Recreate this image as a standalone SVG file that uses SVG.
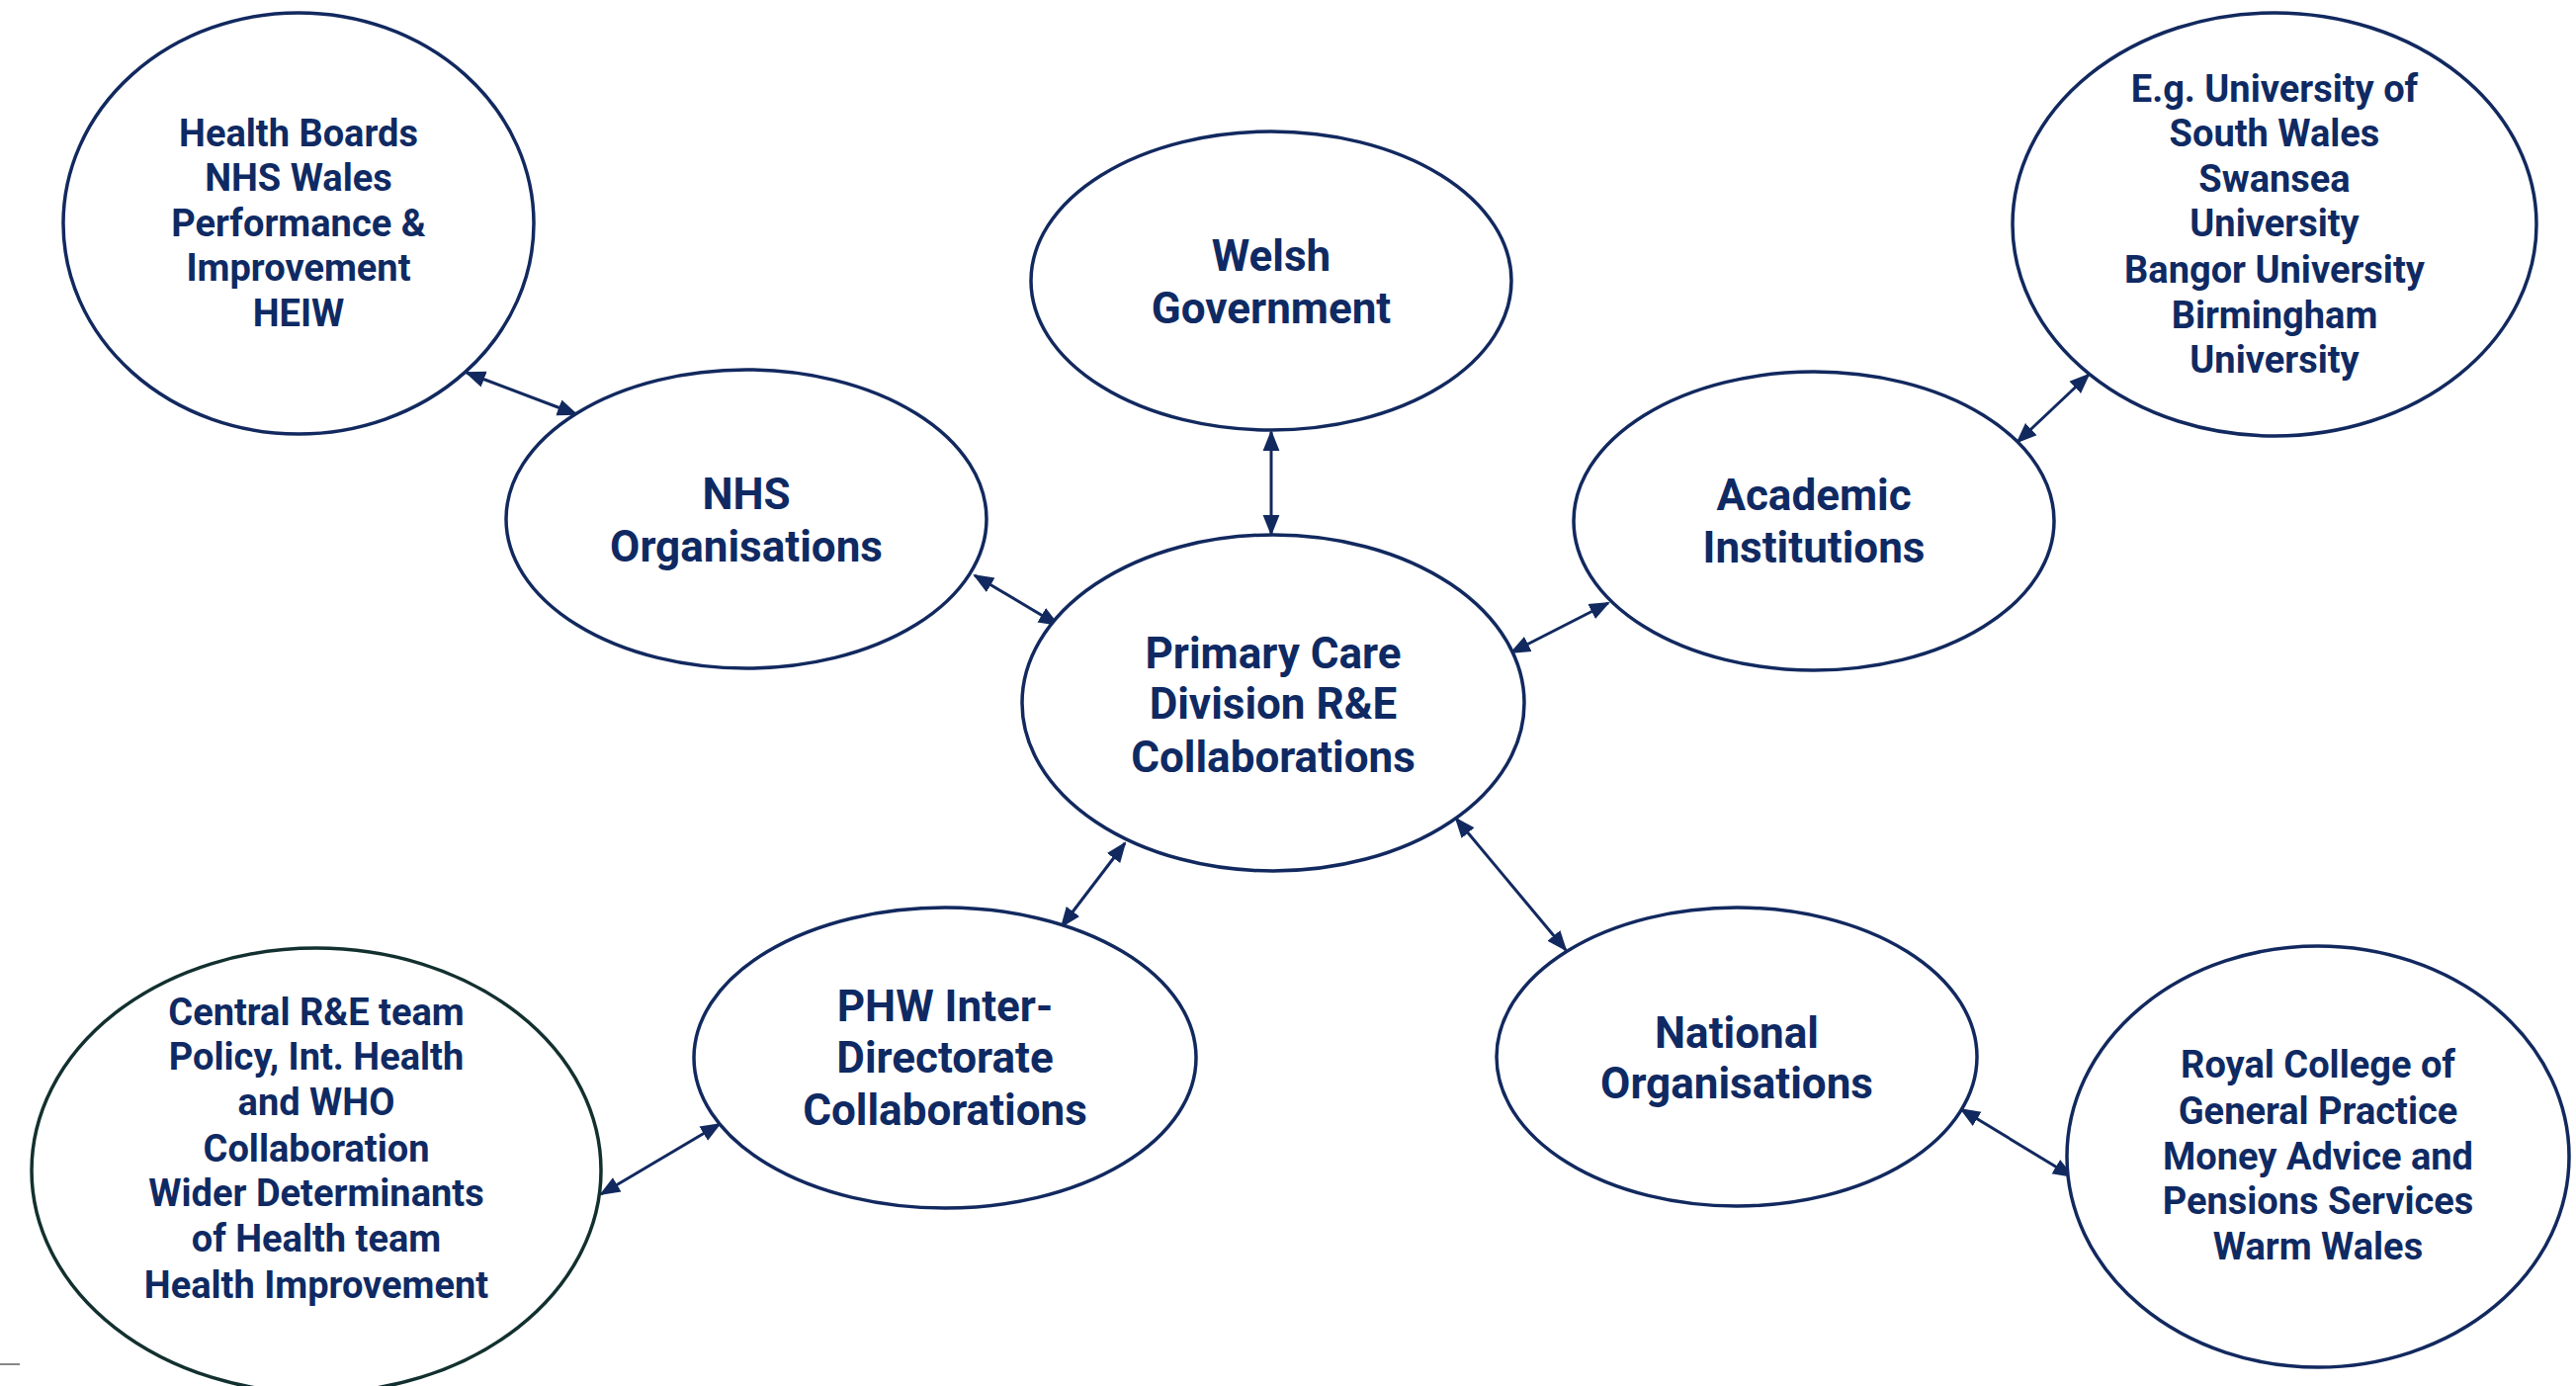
<svg xmlns="http://www.w3.org/2000/svg" width="2606" height="1402" viewBox="0 0 2606 1402">
<style>
.n{fill:#fff;stroke:#12295f;stroke-width:3.5}
.d{stroke:#12302f}
.t{font-family:Roboto,"Liberation Sans",sans-serif;font-weight:bold;fill:#0f2a63;text-anchor:middle}
.s{font-size:38px}
.l{font-size:44px}
.c{stroke:#12295f;stroke-width:3;fill:none;marker-start:url(#a);marker-end:url(#a)}
</style>
<defs>
<marker id="a" viewBox="0 0 10 10" refX="9" refY="5" markerWidth="7" markerHeight="7" orient="auto-start-reverse" markerUnits="strokeWidth">
<path d="M0,1 L10,5 L0,9 Z" fill="#12295f"/>
</marker>
</defs>
<rect width="2606" height="1402" fill="#fff"/>
<g id="connectors">
<line class="c" x1="472" y1="377" x2="583" y2="419"/>
<line class="c" x1="1286" y1="437" x2="1286" y2="540"/>
<line class="c" x1="986" y1="582" x2="1070" y2="632"/>
<line class="c" x1="1529" y1="660" x2="1627" y2="610"/>
<line class="c" x1="2041" y1="447" x2="2113" y2="379"/>
<line class="c" x1="1138" y1="853" x2="1074" y2="937"/>
<line class="c" x1="728" y1="1137" x2="608" y2="1208"/>
<line class="c" x1="1473" y1="828" x2="1584" y2="961"/>
<line class="c" x1="1984" y1="1122" x2="2096" y2="1190"/>
</g>
<line x1="0" y1="1380" x2="20" y2="1380" stroke="#888" stroke-width="2"/>
<g id="health-boards">
<ellipse class="n" cx="302" cy="226" rx="238" ry="213"/>
<text class="t s"><tspan x="302" y="148">Health Boards</tspan><tspan x="302" y="193">NHS Wales</tspan><tspan x="302" y="239">Performance &amp;</tspan><tspan x="302" y="284">Improvement</tspan><tspan x="302" y="330">HEIW</tspan></text>
</g>
<g id="nhs-organisations">
<ellipse class="n" cx="755" cy="525" rx="243" ry="151"/>
<text class="t l"><tspan x="755" y="515">NHS</tspan><tspan x="755" y="568">Organisations</tspan></text>
</g>
<g id="welsh-government">
<ellipse class="n" cx="1286" cy="284" rx="243" ry="151"/>
<text class="t l"><tspan x="1286" y="274">Welsh</tspan><tspan x="1286" y="327">Government</tspan></text>
</g>
<g id="primary-care">
<ellipse class="n" cx="1288" cy="711" rx="254" ry="170"/>
<text class="t l"><tspan x="1288" y="676">Primary Care</tspan><tspan x="1288" y="727">Division R&amp;E</tspan><tspan x="1288" y="781">Collaborations</tspan></text>
</g>
<g id="academic-institutions">
<ellipse class="n" cx="1835" cy="527" rx="243" ry="151"/>
<text class="t l"><tspan x="1835" y="516">Academic</tspan><tspan x="1835" y="569">Institutions</tspan></text>
</g>
<g id="universities">
<ellipse class="n" cx="2301" cy="227" rx="265" ry="214"/>
<text class="t s"><tspan x="2301" y="103">E.g. University of</tspan><tspan x="2301" y="148">South Wales</tspan><tspan x="2301" y="194">Swansea</tspan><tspan x="2301" y="239">University</tspan><tspan x="2301" y="286">Bangor University</tspan><tspan x="2301" y="332">Birmingham</tspan><tspan x="2301" y="377">University</tspan></text>
</g>
<g id="phw">
<ellipse class="n" cx="956" cy="1070" rx="254" ry="152"/>
<text class="t l"><tspan x="956" y="1033">PHW Inter-</tspan><tspan x="956" y="1085">Directorate</tspan><tspan x="956" y="1138">Collaborations</tspan></text>
</g>
<g id="central-re">
<ellipse class="n d" cx="320" cy="1184" rx="288" ry="225"/>
<text class="t s"><tspan x="320" y="1037">Central R&amp;E team</tspan><tspan x="320" y="1082">Policy, Int. Health</tspan><tspan x="320" y="1128">and WHO</tspan><tspan x="320" y="1175">Collaboration</tspan><tspan x="320" y="1220">Wider Determinants</tspan><tspan x="320" y="1266">of Health team</tspan><tspan x="320" y="1313">Health Improvement</tspan></text>
</g>
<g id="national-organisations">
<ellipse class="n" cx="1757" cy="1069" rx="243" ry="151"/>
<text class="t l"><tspan x="1757" y="1060">National</tspan><tspan x="1757" y="1111">Organisations</tspan></text>
</g>
<g id="royal-college">
<ellipse class="n" cx="2345" cy="1170" rx="254" ry="213"/>
<text class="t s"><tspan x="2345" y="1090">Royal College of</tspan><tspan x="2345" y="1137">General Practice</tspan><tspan x="2345" y="1183">Money Advice and</tspan><tspan x="2345" y="1228">Pensions Services</tspan><tspan x="2345" y="1274">Warm Wales</tspan></text>
</g>
</svg>
